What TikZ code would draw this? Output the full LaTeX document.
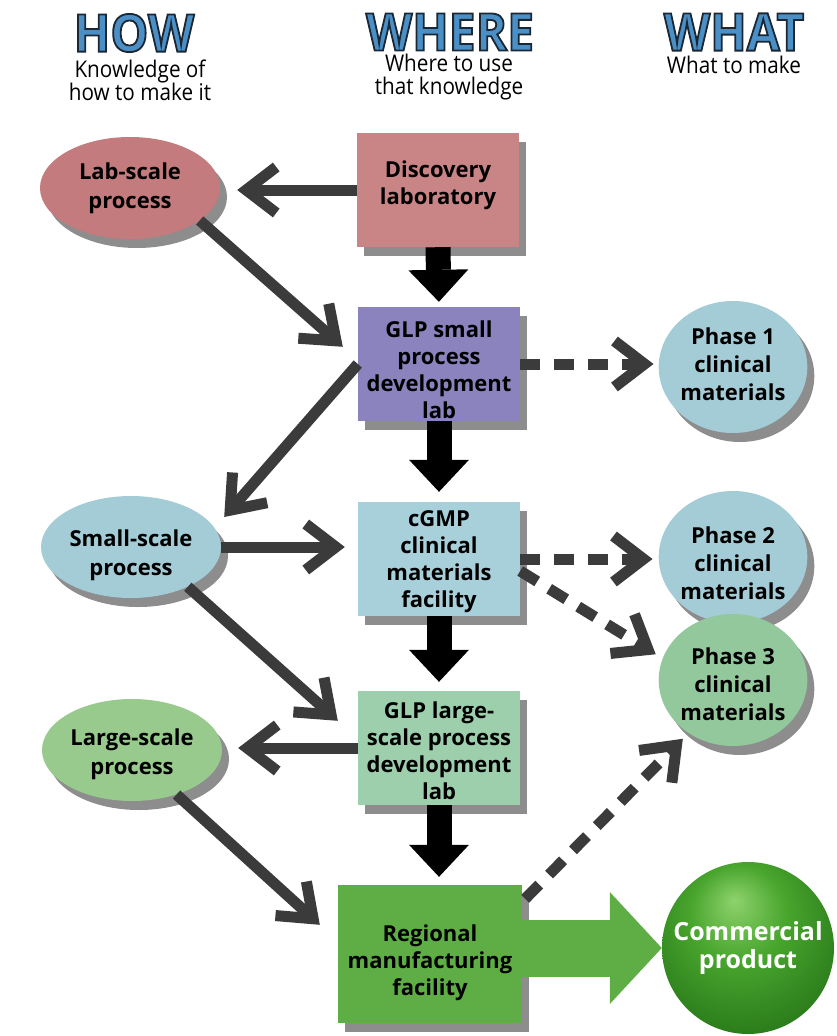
\documentclass[tikz,border=0pt]{standalone}
\usepackage{fontspec}
\setmainfont{Open Sans}
\newfontfamily\hdrfont[FakeStretch=0.92]{Open Sans}
\newfontfamily\subfont[FakeStretch=0.9]{Open Sans}
\usetikzlibrary{arrows.meta,shapes.geometric,shadows,calc}

\definecolor{labc}{HTML}{C47B7D}
\definecolor{discc}{HTML}{C98486}
\definecolor{glpsc}{HTML}{8A83BE}
\definecolor{bluec}{HTML}{A4CCD7}
\definecolor{cgmpc}{HTML}{A8D0DA}
\definecolor{ph3c}{HTML}{93C89C}
\definecolor{largec}{HTML}{97CA8C}
\definecolor{glplc}{HTML}{9DCFAC}
\definecolor{regc}{HTML}{5EAE45}
\definecolor{shadc}{HTML}{8D8D8D}
\definecolor{garc}{HTML}{3B3B3B}
\definecolor{hdrblue}{HTML}{4A8FC6}
\definecolor{gbA}{HTML}{8ED26C}
\definecolor{gbB}{HTML}{48A52D}
\definecolor{gbC}{HTML}{2C7E1C}
\definecolor{gbD}{HTML}{124C0E}
\definecolor{gbE}{HTML}{062406}

\pgfdeclareradialshading{greenball}{\pgfpoint{-4bp}{14bp}}{%
  color(0bp)=(gbA); color(14bp)=(gbB); color(30bp)=(gbC); color(42bp)=(gbD); color(50bp)=(gbE)}

% blue letters with a thin dark outline (fill + stroke text render mode)
\newcommand\outlined[1]{\special{pdf:literal direct 2 Tr 1.8 w 0.106 0.153 0.2 RG}#1\special{pdf:literal direct 0 Tr}}
% vertical fine-tuning of node text: \tup raises first-line height, \tdn adds last-line depth
\newcommand\tup[1]{\rule{0pt}{#1}}
\newcommand\tdn[1]{\rule[-#1]{0pt}{#1}}

\tikzset{
  every node/.style={font=\bfseries\fontsize{22}{27}\selectfont, align=center, inner sep=0pt},
  hdr/.style={font=\hdrfont\bfseries\fontsize{52}{52}\selectfont, text=hdrblue},
  sub/.style={font=\subfont\fontsize{23}{23}\selectfont},
  shad/.style={drop shadow={shadow xshift=7pt,shadow yshift=-9pt,fill=shadc,opacity=1}},
  box/.style={rectangle, minimum width=162pt, minimum height=114pt, shad},
  ell/.style={ellipse, minimum width=180pt, minimum height=102pt, shad, font=\bfseries\fontsize{22}{29}\selectfont},
  circ/.style={ellipse, minimum width=140pt, minimum height=132pt, shad, font=\bfseries\fontsize{22}{28}\selectfont},
  garrow/.style={draw=garc, line width=11pt, -{Straight Barb[length=30pt,width=46pt]}},
  darrow/.style={garrow, dash pattern=on 20pt off 14pt},
  barrow/.style={draw=black, line width=25pt, -{Triangle[length=32pt,width=60pt,line width=0pt]}},
  bigarrow/.style={draw=regc, line width=57pt, -{Triangle[length=52pt,width=112pt,line width=0pt]}},
}

\begin{document}
\begin{tikzpicture}[x=1pt,y=-1pt]
\useasboundingbox (0,0) rectangle (836,1036);

% headers
\node[hdr] (how) at (134,33) {\outlined{HOW}};
\node[hdr] (where) at (450,32) {\outlined{WHERE}};
\node[hdr] (what) at (734,32) {\outlined{WHAT}};
\node[sub] (howsub) at (140,80) {Knowledge of\\how to make it};
\node[sub] (wheresub) at (449,77) {Where to use\\that knowledge};
\node[sub] (whatsub) at (734,65) {What to make};

% nodes
\node[ell, fill=labc] (lab) at (130,188) {Lab-scale\\process};
\node[box, fill=discc] (disc) at (438,190) {Discovery\\laboratory\tdn{14pt}};
\node[box, fill=glpsc] (glps) at (439,364) {\tup{28.7pt}GLP small\\process\\development\\lab};
\node[circ, fill=bluec] (ph1) at (733,367) {Phase 1\\clinical\\materials\tdn{6pt}};
\node[ell, fill=bluec] (small) at (131,547) {\tup{34pt}Small-scale\\process};
\node[box, fill=cgmpc] (cgmp) at (439,559) {\tup{21.7pt}cGMP\\clinical\\materials\\facility};
\node[circ, fill=bluec] (ph2) at (733,557) {\tup{28.7pt}Phase 2\\clinical\\materials};
\node[circ, fill=ph3c] (ph3) at (733,680) {\tup{24.7pt}Phase 3\\clinical\\materials};
\node[ell, fill=largec] (large) at (132,750) {\tup{24.7pt}Large-scale\\process};
\node[box, fill=glplc] (glpl) at (439,748) {\tup{22.7pt}GLP large-\\scale process\\development\\lab};
\node[box, fill=regc, minimum width=184pt, minimum height=138pt] (reg) at (430,954) {\tup{34.7pt}Regional\\manufacturing\\facility};

% black flow arrows
\draw[barrow, shorten >=5pt] (disc.south) -- (glps.north);
\draw[barrow, shorten >=10pt] (glps.south) -- (cgmp.north);
\draw[barrow, shorten >=9pt] (cgmp.south) -- (glpl.north);
\draw[barrow, shorten >=8pt] (glpl.south) -- (glpl.south |- reg.north);

% gray arrows
\draw[garrow, shorten >=17pt] (disc.west) -- (disc.west -| lab.east);
\draw[garrow] (lab.-25) -- ($(glps.north west)+(-15,40)$);
\draw[garrow] (glps.west) -- ($(small.east)+(3,-30)$);
\draw[garrow, shorten >=13pt] (small.east) -- (small.east -| cgmp.west);
\draw[garrow] (small.-35) -- ($(glpl.north west)+(-20,30)$);
\draw[garrow, shorten >=16pt] (glpl.west) -- (glpl.west -| large.east);
\draw[garrow] (large.-45) -- ($(reg.north west)+(-18,40)$);

% dashed arrows
\draw[darrow, shorten >=5pt] (glps.east) -- (glps.east -| ph1.west);
\draw[darrow, shorten >=6pt] (cgmp.east) -- (cgmp.east -| ph2.west);
\draw[darrow, shorten >=8pt] ($(cgmp.east)+(0,12)$) -- (ph3.163);
\draw[darrow, shorten >=8pt] ($(reg.north east)+(3,14)$) -- (ph3.230);

% commercial product
\node[circle, minimum size=172pt, shading=greenball, text=white, font=\fontsize{25}{28}\selectfont\bfseries] (prod) at (748,948) {Commercial\\product};
\draw[bigarrow] ($(reg.east)+(0,-6)$) -- (prod.west);
\end{tikzpicture}
\end{document}
